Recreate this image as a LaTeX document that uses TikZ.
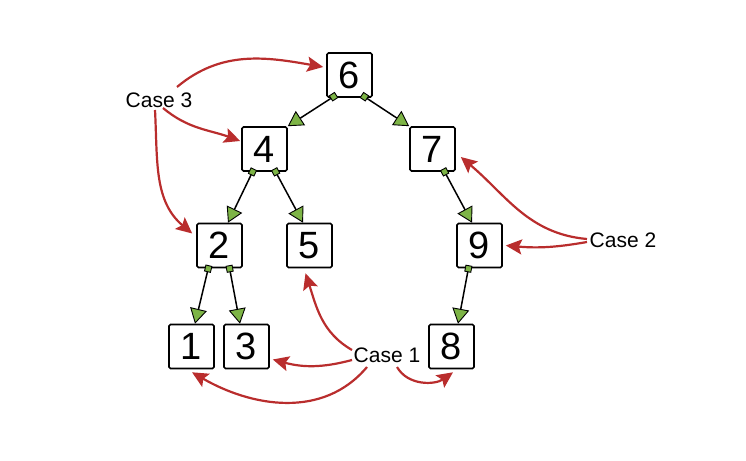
\documentclass[tikz,border=0pt]{standalone}
\usepackage{fontspec}
\setmainfont{Liberation Sans}
\usetikzlibrary{arrows.meta}
\definecolor{casered}{HTML}{B92D2D}
\definecolor{leafgreen}{HTML}{7DB446}
\begin{document}
\begin{tikzpicture}[x=1pt,y=1pt,
  keybox/.style={draw=black, fill=white, line width=1.6pt, rounded corners=1.5pt,
    minimum width=45pt, minimum height=44pt, inner sep=0pt,
    font=\fontsize{38}{38}\selectfont},
  caselabel/.style={inner sep=1pt, font=\fontsize{21}{21}\selectfont},
  treeedge/.style={draw=black, line width=1.5pt,
    {Square[length=7pt,width=7pt,fill=leafgreen,line width=0.9pt]}-{Triangle[length=15pt,width=17pt,fill=leafgreen,line width=0.9pt]}},
  casearrow/.style={draw=casered, line width=2.2pt,
    -{Stealth[length=16pt,width=15pt,inset=3pt]}}
]
\useasboundingbox (0,0) rectangle (746,460);

% tree keys
\node[keybox] (n6) at (349.5,385) {6};
\node[keybox] (n4) at (264.5,311) {4};
\node[keybox] (n7) at (432.5,311) {7};
\node[keybox] (n2) at (219.5,214.5) {2};
\node[keybox] (n5) at (309.5,214.5) {5};
\node[keybox] (n9) at (479.5,214.5) {9};
\node[keybox] (n1) at (191.5,113.5) {1};
\node[keybox] (n3) at (246.5,113.5) {3};
\node[keybox] (n8) at (451.5,113.5) {8};

% case labels
\node[caselabel] (c3) at (159,360) {Case 3};
\node[caselabel] (c2) at (623,220) {Case 2};
\node[caselabel] (c1) at (387,105) {Case 1};

% parent-child links
\draw[treeedge] ([xshift=-13pt,yshift=3pt]n6.south) -- (n4.north east);
\draw[treeedge] ([xshift=12pt,yshift=3pt]n6.south) -- (n7.north west);
\draw[treeedge] ([xshift=-10.5pt,yshift=3pt]n4.south) -- ([xshift=8.5pt]n2.north);
\draw[treeedge] ([xshift=9.5pt,yshift=3pt]n4.south) -- ([xshift=-6.5pt]n5.north);
\draw[treeedge] ([xshift=-10.5pt,yshift=3pt]n2.south) -- ([xshift=3.5pt]n1.north);
\draw[treeedge] ([xshift=9.5pt,yshift=3pt]n2.south) -- ([xshift=-6.5pt]n3.north);
\draw[treeedge] ([xshift=10.5pt,yshift=3pt]n7.south) -- ([xshift=-7.5pt]n9.north);
\draw[treeedge] ([xshift=-10.5pt,yshift=3pt]n9.south) -- ([xshift=6.5pt]n8.north);

% case 3 pointers
\draw[casearrow] ([xshift=18pt,yshift=13pt]c3.center) to[out=40,in=170] ([xshift=-3pt,yshift=8pt]n6.west);
\draw[casearrow] ([xshift=4pt,yshift=-8pt]c3.center) to[out=-40,in=160] ([xshift=-1pt,yshift=8pt]n4.west);
\draw[casearrow] ([xshift=-4pt,yshift=-10pt]c3.center) to[out=-87,in=140] ([xshift=-4pt,yshift=12pt]n2.west);

% case 2 pointers
\draw[casearrow] ([xshift=-36pt,yshift=1pt]c2.center) to[out=175,in=-40] ([xshift=5pt,yshift=-8pt]n7.east);
\draw[casearrow] ([xshift=-36pt,yshift=-2pt]c2.center) to[out=190,in=-5] ([xshift=3pt]n9.east);

% case 1 pointers
\draw[casearrow] ([xshift=-35pt,yshift=5pt]c1.center) to[out=150,in=-72] ([xshift=-4pt,yshift=-5pt]n5.south);
\draw[casearrow] ([xshift=-35pt,yshift=-5pt]c1.center) to[out=195,in=-15] ([xshift=3pt,yshift=-13pt]n3.east);
\draw[casearrow] ([xshift=-20pt,yshift=-12pt]c1.center) to[out=-130,in=-30] ([xshift=0.5pt,yshift=-3pt]n1.south);
\draw[casearrow] ([xshift=10pt,yshift=-12pt]c1.center) to[out=-60,in=-145] ([xshift=1.5pt,yshift=-3pt]n8.south);
\end{tikzpicture}
\end{document}
